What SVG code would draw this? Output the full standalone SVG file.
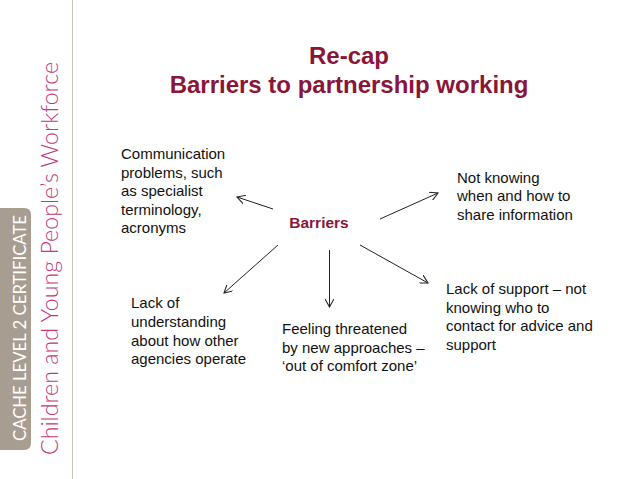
<svg xmlns="http://www.w3.org/2000/svg" width="638" height="479" viewBox="0 0 638 479">
<defs>
<style>
.t{font-family:"Liberation Sans",Arial,sans-serif;font-size:15px;fill:#111}
.h{font-family:"Liberation Sans",Arial,sans-serif;font-weight:bold;fill:#8a1538}
.c{stroke:#222;stroke-width:1;fill:none;marker-end:url(#ah)}
</style>
<marker id="ah" viewBox="0 0 10 10" refX="9" refY="5" markerWidth="9" markerHeight="9" orient="auto" markerUnits="userSpaceOnUse">
<path d="M0,0 L9,5 L0,10" fill="none" stroke="#222" stroke-width="1.2"/>
</marker>
</defs>
<rect width="638" height="479" fill="#fff"/>
<g id="sidebar">
<line x1="72.5" y1="0" x2="72.5" y2="479" stroke="#c8c2bb" stroke-width="1"/>
<path d="M0,208 H24 Q31,208 31,215 V443 Q31,450 24,450 H0 Z" fill="#a89d91"/>
<text transform="translate(26,441) rotate(-90)" font-family="Lato,'Liberation Sans',sans-serif" font-size="18" fill="#fff" textLength="226" lengthAdjust="spacingAndGlyphs">CACHE LEVEL 2 CERTIFICATE</text>
<text transform="translate(58,455) rotate(-90)" font-family="Lato,'Liberation Sans',sans-serif" font-weight="300" font-size="23" fill="#c2387a" textLength="393" lengthAdjust="spacingAndGlyphs">Children and Young People’s Workforce</text>
</g>
<g id="title">
<text class="h" x="349" y="64" font-size="24" text-anchor="middle">Re-cap</text>
<text class="h" x="349" y="93" font-size="24" text-anchor="middle">Barriers to partnership working</text>
</g>
<g id="barriers">
<text class="h" x="319" y="228" font-size="15.5" text-anchor="middle">Barriers</text>
</g>
<g id="communication">
<text class="t" x="121"><tspan x="121" y="159">Communication</tspan><tspan x="121" y="177.5">problems, such</tspan><tspan x="121" y="196">as specialist</tspan><tspan x="121" y="214.5">terminology,</tspan><tspan x="121" y="233">acronyms</tspan></text>
</g>
<g id="not-knowing">
<text class="t"><tspan x="457" y="183">Not knowing</tspan><tspan x="457" y="201">when and how to</tspan><tspan x="457" y="220">share information</tspan></text>
</g>
<g id="lack-understanding">
<text class="t"><tspan x="131" y="308">Lack of</tspan><tspan x="131" y="327">understanding</tspan><tspan x="131" y="346">about how other</tspan><tspan x="131" y="364">agencies operate</tspan></text>
</g>
<g id="feeling">
<text class="t"><tspan x="282" y="334">Feeling threatened</tspan><tspan x="282" y="352.5">by new approaches –</tspan><tspan x="282" y="371">‘out of comfort zone’</tspan></text>
</g>
<g id="lack-support">
<text class="t"><tspan x="446" y="294">Lack of support – not</tspan><tspan x="446" y="313">knowing who to</tspan><tspan x="446" y="331">contact for advice and</tspan><tspan x="446" y="350">support</tspan></text>
</g>
<g id="connectors">
<line class="c" x1="273" y1="209" x2="237" y2="197"/>
<line class="c" x1="380" y1="219" x2="438" y2="193"/>
<line class="c" x1="278" y1="245" x2="224" y2="293"/>
<line class="c" x1="329.5" y1="250" x2="329.5" y2="307"/>
<line class="c" x1="360" y1="245" x2="428" y2="283"/>
</g>
</svg>
